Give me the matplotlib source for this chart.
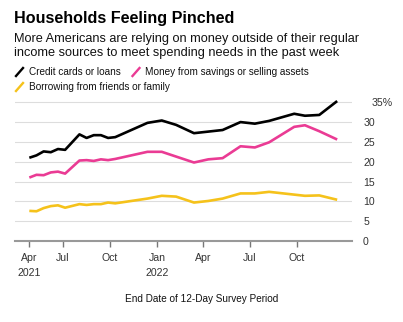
import matplotlib
matplotlib.use("Agg")
import matplotlib.pyplot as plt
from matplotlib.lines import Line2D
from matplotlib.transforms import ScaledTranslation
import datetime as dt

plt.rcParams['font.family'] = ['Liberation Sans', 'DejaVu Sans']

end_dates = ["2021-04-26", "2021-05-10", "2021-05-24", "2021-06-07", "2021-06-21", "2021-07-05",
             "2021-08-02", "2021-08-16", "2021-08-30", "2021-09-13", "2021-09-27", "2021-10-11",
             "2021-12-13", "2022-01-10", "2022-02-07", "2022-03-14", "2022-04-11", "2022-05-09",
             "2022-06-13", "2022-07-11", "2022-08-08", "2022-09-26", "2022-10-17", "2022-11-14",
             "2022-12-19"]
credit_cards_loans = [21.0, 21.6, 22.6, 22.4, 23.2, 23.0, 26.9, 26.0, 26.7, 26.7, 26.0, 26.2,
                      29.8, 30.4, 29.3, 27.2, 27.6, 28.0, 30.0, 29.6, 30.3, 32.1, 31.6, 31.8, 35.3]
savings_assets = [16.0, 16.7, 16.6, 17.3, 17.5, 17.0, 20.3, 20.4, 20.2, 20.6, 20.4, 20.7,
                  22.5, 22.5, 21.3, 19.8, 20.6, 20.9, 23.9, 23.6, 24.9, 28.8, 29.2, 27.7, 25.6]
friends_family = [7.6, 7.5, 8.3, 8.8, 9.0, 8.4, 9.3, 9.1, 9.3, 9.3, 9.7, 9.5,
                  10.7, 11.4, 11.2, 9.7, 10.1, 10.7, 12.0, 12.0, 12.4, 11.7, 11.4, 11.5, 10.4]
series_names = ["Credit cards or loans", "Money from savings or selling assets",
                "Borrowing from friends or family"]
y_ticks = [0, 5, 10, 15, 20, 25, 30, 35]
y_tick_labels = ["0", "5", "10", "15", "20", "25", "30", "35%"]
x_tick_dates = ["2021-04-26", "2021-07-01", "2021-10-01", "2022-01-01", "2022-04-01",
                "2022-07-01", "2022-10-01"]
x_tick_labels = ["Apr\n2021", "Jul", "Oct", "Jan\n2022", "Apr", "Jul", "Oct"]

colors = ["#000000", "#ea3b94", "#f5c21b"]

W, H = 403, 322
fig = plt.figure(figsize=(W / 100, H / 100), dpi=100)

def fx(px):
    return px / W

def fy(py):
    return 1 - py / H

# axes: x 15..352 px, y 98.3..241 px
ax = fig.add_axes([fx(15), fy(241), fx(352) - fx(15), (241 - 98.3) / H])
dates = [dt.datetime.strptime(d, "%Y-%m-%d") for d in end_dates]
for vals, c in zip([credit_cards_loans, savings_assets, friends_family], colors):
    ax.plot(dates, vals, color=c, lw=1.9, solid_joinstyle='round', solid_capstyle='butt', zorder=3)

ax.set_ylim(0, 36)
ax.set_xlim(dt.datetime(2021, 3, 29), dt.datetime(2023, 1, 17))

ax.set_yticks(y_ticks)
ax.set_yticklabels(y_tick_labels)
ax.yaxis.tick_right()
ax.tick_params(axis='y', length=0, pad=8, labelsize=7.6, labelcolor='#333333')
for lab in ax.get_yticklabels():
    lab.set_horizontalalignment('left')
top_lab = ax.get_yticklabels()[-1]
top_lab.set_transform(top_lab.get_transform() + ScaledTranslation(8 / 100, 0, fig.dpi_scale_trans))

ax.set_xticks([dt.datetime.strptime(d, "%Y-%m-%d") for d in x_tick_dates])
ax.set_xticklabels(x_tick_labels, linespacing=1.6)
ax.tick_params(axis='x', length=4, width=1.0, color='#777777', pad=4.5, labelsize=7.6,
               labelcolor='#333333')

ax.grid(axis='y', color='#dddddd', lw=0.8, zorder=0)
ax.set_axisbelow(True)
for s in ['top', 'right', 'left']:
    ax.spines[s].set_visible(False)
ax.spines['bottom'].set_color('#999999')
ax.spines['bottom'].set_linewidth(1.5)
ax.spines['bottom'].set_zorder(2)

# title & subtitle
fig.text(fx(14.5), fy(23.3), "Households Feeling Pinched", fontsize=11.6, fontweight='bold',
         color='#000000', va='baseline', ha='left')
fig.text(fx(14.5), fy(41.7), "More Americans are relying on money outside of their regular",
         fontsize=9.15, color='#111111', va='baseline', ha='left')
fig.text(fx(14.5), fy(56.2), "income sources to meet spending needs in the past week",
         fontsize=9.15, color='#111111', va='baseline', ha='left')

# legend
legend_items = [(15, 29, 75, colors[0], series_names[0]),
                (131.5, 145, 75, colors[1], series_names[1]),
                (15, 29, 90, colors[2], series_names[2])]
for ix, tx, by, c, name in legend_items:
    fig.add_artist(Line2D([fx(ix + 1), fx(ix + 8)], [fy(by + 1), fy(by - 7)], color=c, lw=1.7,
                          transform=fig.transFigure))
    fig.text(fx(tx), fy(by), name, fontsize=7.2, color='#111111', va='baseline', ha='left')

# x-axis title
fig.text(fx(202), fy(301.5), "End Date of 12-Day Survey Period", fontsize=7.2, color='#111111',
         va='baseline', ha='center')

fig.savefig("out.png", dpi=100, facecolor='white')
